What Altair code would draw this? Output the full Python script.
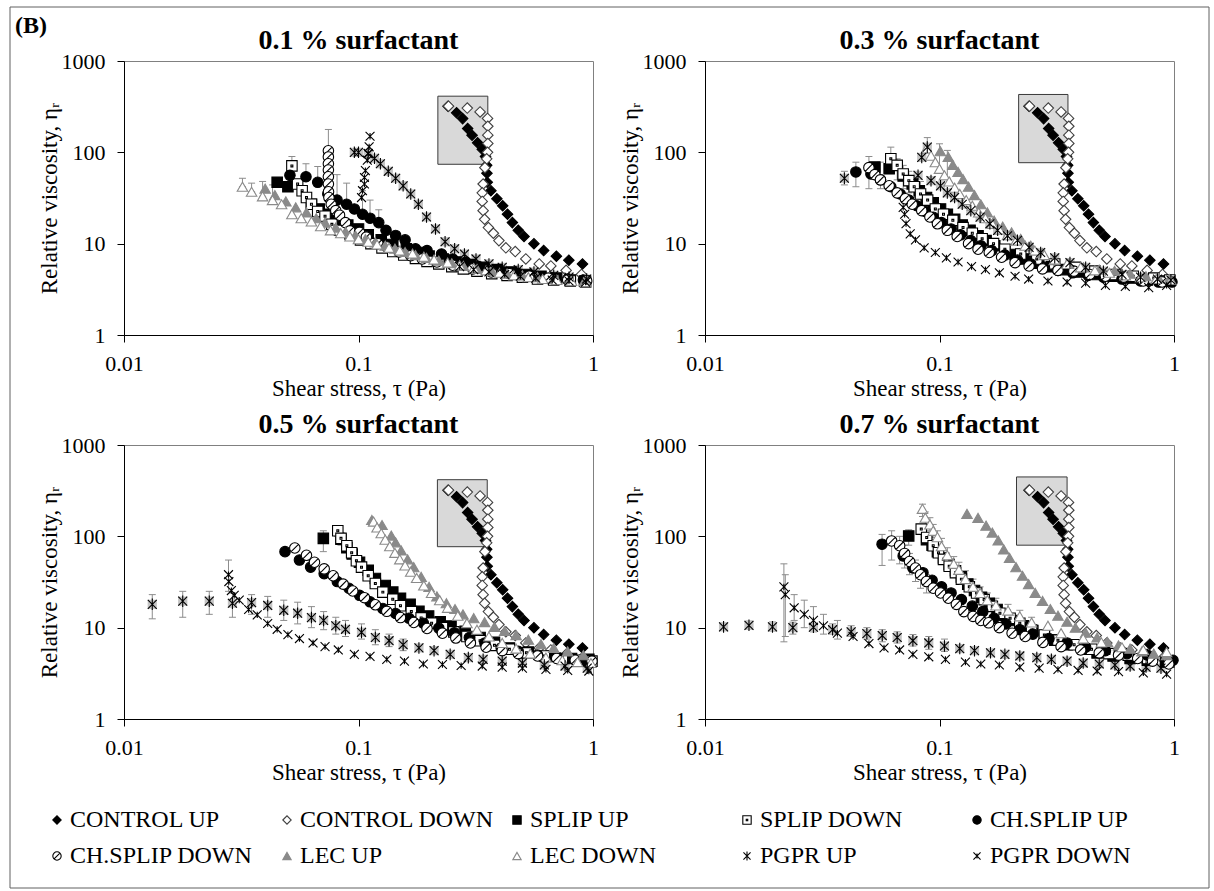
import altair as alt
import pandas as pd

# ---------------- legend / series definitions ----------------
SERIES = ["CONTROL UP", "CONTROL DOWN", "SPLIP UP", "SPLIP DOWN", "CH.SPLIP UP",
          "CH.SPLIP DOWN", "LEC UP", "LEC DOWN", "PGPR UP", "PGPR DOWN"]
SHAPES = ["diamond", "diamond", "square",
          "M-1,-1H1V1H-1Z M-0.18,-0.18H0.18V0.18H-0.18Z",
          "circle",
          "M1,0A1,1,0,1,1,-1,0A1,1,0,1,1,1,0Z M-0.7,0.7L0.7,-0.7",
          "triangle-up", "triangle-up",
          "M-0.85,-0.85L0.85,0.85M-0.85,0.85L0.85,-0.85M0,-1.1L0,1.1",
          "M-0.85,-0.85L0.85,0.85M-0.85,0.85L0.85,-0.85M0,-0.6L0,0.6"]
FILLS = ["black", "white", "black", "white", "black", "white",
         "#8a8a8a", "white", "transparent", "transparent"]
STROKES = ["black", "#404040", "black", "black", "black", "black",
           "#8a8a8a", "#8a8a8a", "black", "black"]

PANEL_TITLES = ["0.1 % surfactant", "0.3 % surfactant", "0.5 % surfactant", "0.7 % surfactant"]
X_TITLE = "Shear stress, τ (Pa)"
Y_TITLE = "Relative viscosity, ηᵣ"
X_TICKS = [0.01, 0.1, 1]
Y_TICKS = [1, 10, 100, 1000]

# grey inset box per panel (x1, x2, y1, y2)
INSET_X1 = [0.218, 0.2175, 0.217, 0.213]
INSET_X2 = [0.356, 0.353, 0.354, 0.350]
INSET_Y1 = [74, 77, 77, 80]
INSET_Y2 = [412, 430, 417, 447]

# ---------------- control (same in every panel) ----------------
CONTROL_UP_X = [0.241, 0.262, 0.278, 0.292, 0.305, 0.322, 0.337, 0.348, 0.352, 0.353, 0.354, 0.367,
                0.389, 0.412, 0.432, 0.453, 0.480, 0.508, 0.560, 0.616, 0.698, 0.789, 0.902]
CONTROL_UP_Y = [320, 271, 234, 182, 154, 127, 108, 90, 72, 59, 47, 38,
                31, 26, 21, 17, 14, 12, 10, 8.4, 7.3, 6.6, 6.0]
CONTROL_DOWN_X = [0.242, 0.291, 0.330, 0.355, 0.356, 0.356, 0.356, 0.355, 0.352, 0.346, 0.340, 0.337,
                  0.337, 0.340, 0.345, 0.358, 0.376, 0.397, 0.425, 0.466, 0.517, 0.590, 0.661, 0.768, 0.893]
CONTROL_DOWN_Y = [320, 305, 277, 235, 193, 154, 125, 100, 85, 68, 45, 36,
                  29, 23, 18.5, 15, 13, 10.8, 9.0, 8.2, 6.8, 6.0, 5.7, 5.1, 4.6]

# ---------------- 0.1 % ----------------
P1_SPLIP_UP_X = [0.045, 0.050, 0.063, 0.068, 0.075, 0.082, 0.090, 0.10, 0.11, 0.125, 0.14, 0.16, 0.18,
                 0.20, 0.23, 0.26, 0.30, 0.34, 0.39, 0.45, 0.52, 0.60, 0.70, 0.80, 0.92]
P1_SPLIP_UP_Y = [47, 42, 27, 24, 21, 18, 16, 14.5, 12.5, 11, 9.8, 8.8, 8.0,
                 7.3, 6.8, 6.3, 5.9, 5.5, 5.2, 4.9, 4.6, 4.4, 4.2, 4.0, 3.9]
P1_SPLIP_DOWN_X = [0.052, 0.055, 0.0575, 0.060, 0.063, 0.067, 0.072, 0.077, 0.083, 0.092, 0.102, 0.113,
                   0.126, 0.14, 0.156, 0.175, 0.196, 0.22, 0.25, 0.28, 0.32, 0.37, 0.43, 0.50, 0.58,
                   0.68, 0.80, 0.93]
P1_SPLIP_DOWN_Y = [71, 45, 38, 32, 27, 22.5, 20, 16.3, 14, 12.8, 11, 10,
                   9.0, 8.2, 7.5, 6.9, 6.4, 6.0, 5.6, 5.3, 5.0, 4.7, 4.5, 4.3, 4.1,
                   4.0, 3.9, 3.8]
P1_CHSPLIP_UP_X = [0.051, 0.0597, 0.067, 0.074, 0.081, 0.089, 0.096, 0.104, 0.112, 0.122, 0.131, 0.144,
                   0.158, 0.175, 0.196, 0.226, 0.252, 0.287, 0.325, 0.368, 0.42, 0.48, 0.535, 0.60,
                   0.67, 0.78, 0.91]
P1_CHSPLIP_UP_Y = [56, 54, 47, 35, 30, 27, 24, 21, 19, 17, 14, 12.3,
                   11, 8.8, 8.4, 7.7, 6.8, 6.3, 5.6, 5.0, 4.9, 4.7, 4.5, 4.3,
                   4.2, 4.1, 4.0]
P1_CHSPLIP_DOWN_X = [0.0744, 0.0744, 0.0744, 0.0744, 0.0744, 0.0744, 0.0745, 0.0748, 0.0765, 0.080,
                     0.083, 0.088, 0.092, 0.101, 0.108, 0.121, 0.132, 0.149, 0.167, 0.187, 0.216,
                     0.252, 0.307, 0.368, 0.44, 0.535, 0.645, 0.78, 0.94]
P1_CHSPLIP_DOWN_Y = [104, 89, 75, 64, 54, 45, 37, 32, 27, 23,
                     20.5, 17, 13.8, 13.3, 11.8, 10, 9.2, 8.1, 7.4, 6.8, 6.3,
                     5.8, 5.3, 4.9, 4.7, 4.4, 4.2, 4.0, 3.9]
P1_LEC_UP_X = [0.040, 0.044, 0.049, 0.054, 0.060, 0.066, 0.072, 0.080, 0.088, 0.097, 0.107, 0.118,
               0.130, 0.143, 0.158, 0.175, 0.195, 0.22, 0.25, 0.28, 0.32, 0.37, 0.43, 0.50, 0.58,
               0.68, 0.80, 0.92]
P1_LEC_UP_Y = [40, 34, 29, 25, 22, 19, 17, 15, 13.5, 12.3, 11.2, 10.3,
               9.5, 8.8, 8.1, 7.5, 7.0, 6.5, 6.1, 5.7, 5.3, 5.0, 4.7, 4.5, 4.3,
               4.1, 4.0, 3.9]
P1_LEC_DOWN_X = [0.032, 0.035, 0.039, 0.043, 0.047, 0.052, 0.057, 0.063, 0.069, 0.076, 0.084, 0.092,
                 0.10, 0.11, 0.12, 0.135, 0.15, 0.17, 0.19, 0.21, 0.24, 0.27, 0.31, 0.35, 0.40,
                 0.46, 0.53, 0.61, 0.70, 0.81, 0.93]
P1_LEC_DOWN_Y = [42, 37, 33, 30, 27, 21, 19, 17.5, 15.5, 14, 13, 12,
                 11.2, 10.5, 9.8, 9.0, 8.4, 7.8, 7.2, 6.7, 6.2, 5.8, 5.4, 5.1, 4.8,
                 4.5, 4.3, 4.1, 4.0, 3.9, 3.8]
P1_PGPR_UP_X = [0.096, 0.100, 0.110, 0.117, 0.124, 0.134, 0.144, 0.155, 0.167, 0.180, 0.195, 0.213,
                0.234, 0.257, 0.283, 0.317, 0.36, 0.41, 0.48, 0.56, 0.68, 0.79, 0.94]
P1_PGPR_UP_Y = [100, 100, 97, 86, 75, 62, 52, 43, 35, 27, 19.6, 14.5,
                10.5, 8.8, 7.7, 6.8, 6.0, 5.5, 5.2, 4.9, 4.5, 4.3, 4.1]
P1_PGPR_DOWN_X = [0.103, 0.104, 0.106, 0.106, 0.107, 0.109, 0.110, 0.111, 0.112,
                  0.27, 0.31, 0.36, 0.42, 0.49, 0.57, 0.67, 0.79, 0.93]
P1_PGPR_DOWN_Y = [32, 38, 45, 53, 63, 82, 97, 115, 150,
                  5.6, 5.2, 4.9, 4.6, 4.4, 4.2, 4.0, 3.9, 3.8]
P1_EB_X = [0.032, 0.035, 0.039, 0.043, 0.052, 0.0597, 0.067, 0.0744, 0.081, 0.089, 0.104, 0.112, 0.122]
P1_EB_LO = [42, 37, 33, 30, 71, 54, 47, 104, 30, 27, 21, 19, 17]
P1_EB_HI = [52, 46, 48, 44, 90, 75, 70, 178, 57, 46, 38, 30, 23.5]

# ---------------- 0.3 % ----------------
P2_SPLIP_UP_X = [0.053, 0.061, 0.070, 0.0765, 0.082, 0.088, 0.094, 0.101, 0.108, 0.116, 0.125, 0.135,
                 0.146, 0.158, 0.172, 0.19, 0.21, 0.235, 0.265, 0.30, 0.345, 0.40, 0.47, 0.55,
                 0.65, 0.77, 0.90]
P2_SPLIP_UP_Y = [69, 66, 55, 45, 38, 32, 28, 24, 21, 18.5, 16, 14,
                 12.2, 10.8, 9.5, 8.5, 7.6, 6.8, 6.1, 5.6, 5.2, 4.9, 4.6, 4.4,
                 4.2, 4.0, 3.9]
P2_SPLIP_DOWN_X = [0.062, 0.066, 0.070, 0.074, 0.078, 0.083, 0.089, 0.096, 0.104, 0.114, 0.126, 0.138,
                   0.152, 0.170, 0.19, 0.222, 0.26, 0.31, 0.38, 0.46, 0.56, 0.67, 0.82, 0.96]
P2_SPLIP_DOWN_Y = [85, 72, 58, 49, 42, 35, 30, 24, 21, 18, 15, 13,
                   11.3, 10, 8.7, 7.7, 6.8, 6.0, 5.5, 5.0, 4.6, 4.4, 4.2, 4.0]
P2_CHSPLIP_UP_X = [0.044, 0.051, 0.056, 0.062, 0.068, 0.074, 0.080, 0.087, 0.094, 0.102, 0.112, 0.123,
                   0.136, 0.15, 0.167, 0.19, 0.215, 0.245, 0.28, 0.32, 0.37, 0.43, 0.50, 0.60,
                   0.72, 0.86, 0.98]
P2_CHSPLIP_UP_Y = [61, 58, 50, 42, 35, 30, 26, 22.5, 19.5, 17, 14.5, 12.5,
                   10.8, 9.5, 8.4, 7.5, 6.6, 6.0, 5.5, 5.1, 4.8, 4.5, 4.3, 4.1,
                   3.9, 3.8, 3.8]
P2_CHSPLIP_DOWN_X = [0.050, 0.053, 0.056, 0.061, 0.066, 0.0715, 0.0765, 0.084, 0.091, 0.098, 0.108,
                     0.119, 0.133, 0.146, 0.163, 0.184, 0.21, 0.241, 0.275, 0.32, 0.374, 0.437,
                     0.51, 0.61, 0.74, 0.89]
P2_CHSPLIP_DOWN_Y = [68, 57, 50, 43, 36, 31, 27, 23, 19.6, 16.5, 14,
                     12, 10, 8.7, 8.0, 7.1, 6.2, 5.7, 5.3, 5.1, 5.0, 4.6,
                     4.4, 4.3, 3.9, 3.8]
P2_LEC_UP_X = [0.1008, 0.109, 0.114, 0.120, 0.126, 0.133, 0.141, 0.150, 0.160, 0.171, 0.186, 0.203,
               0.222, 0.245, 0.275, 0.309, 0.355, 0.411, 0.48, 0.558, 0.65, 0.759, 0.86, 0.955]
P2_LEC_UP_Y = [103, 89, 73, 61, 51, 42, 34, 27, 22, 17.9, 15.4, 13.3,
               11.3, 9.5, 7.9, 6.6, 6.0, 5.5, 5.2, 5.05, 4.7, 4.4, 4.2, 4.1]
P2_LEC_DOWN_X = [0.088, 0.092, 0.096, 0.1, 0.105, 0.11, 0.116, 0.122, 0.13, 0.138, 0.147, 0.157,
                 0.168, 0.18, 0.195, 0.212, 0.232, 0.255, 0.28, 0.31, 0.35, 0.40, 0.46, 0.53,
                 0.62, 0.72, 0.84, 0.97]
P2_LEC_DOWN_Y = [110, 92, 78, 66, 56, 48, 41, 35, 30, 26, 22, 19,
                 16.5, 14.3, 12.4, 10.8, 9.5, 8.4, 7.5, 6.7, 6.0, 5.5, 5.1, 4.8,
                 4.5, 4.3, 4.1, 4.0]
P2_PGPR_UP_X = [0.0393, 0.081, 0.084, 0.0887, 0.092, 0.101, 0.108, 0.116, 0.125, 0.136, 0.149, 0.164,
                0.177, 0.195, 0.215, 0.241, 0.27, 0.31, 0.36, 0.42, 0.50, 0.60, 0.72, 0.85, 0.97]
P2_PGPR_UP_Y = [52, 56, 88, 114, 49, 43, 36, 32, 27, 23, 19.5, 16.5,
                14, 12.2, 10.9, 9.1, 8.0, 7.0, 6.2, 5.5, 5.0, 4.6, 4.3, 4.1, 4.0]
P2_PGPR_DOWN_X = [0.070, 0.071, 0.072, 0.075, 0.079, 0.086, 0.096, 0.107, 0.120, 0.137, 0.157, 0.18,
                  0.21, 0.24, 0.29, 0.35, 0.42, 0.51, 0.62, 0.78, 0.93]
P2_PGPR_DOWN_Y = [25, 21, 16.6, 12.8, 11, 9.0, 8.0, 7.0, 6.3, 5.6, 5.2, 4.8,
                  4.4, 4.1, 3.9, 3.8, 3.7, 3.5, 3.4, 3.3, 3.5]
P2_EB_X = [0.0393, 0.044, 0.050, 0.056, 0.062, 0.066, 0.070, 0.074, 0.078, 0.083, 0.0887, 0.1, 0.108]
P2_EB_LO = [44, 42, 40, 40, 60, 50, 40, 36, 32, 28, 100, 60, 52]
P2_EB_HI = [62, 78, 90, 78, 114, 85, 72, 62, 55, 48, 145, 124, 105]

# ---------------- 0.5 % ----------------
P3_SPLIP_UP_X = [0.0708, 0.0842, 0.0892, 0.094, 0.101, 0.110, 0.118, 0.130, 0.140, 0.151, 0.166, 0.181,
                 0.199, 0.223, 0.248, 0.285, 0.33, 0.38, 0.44, 0.53, 0.67, 0.81, 0.96]
P3_SPLIP_UP_Y = [95, 93, 75, 64, 52, 42.5, 34.5, 29, 24.5, 21, 18, 15.1,
                 13.4, 11.6, 10.4, 9.1, 7.8, 6.9, 6.0, 5.4, 4.9, 4.6, 4.5]
P3_SPLIP_DOWN_X = [0.0816, 0.0842, 0.0892, 0.0935, 0.098, 0.103, 0.110, 0.118, 0.127, 0.140, 0.151,
                   0.168, 0.185, 0.205, 0.228, 0.255, 0.29, 0.33, 0.38, 0.44, 0.52, 0.62, 0.74,
                   0.88, 0.99]
P3_SPLIP_DOWN_Y = [115, 95, 79, 66, 54, 46, 37, 30.5, 24.5, 20.5, 17.4,
                   15, 12.8, 11.2, 10, 9.0, 8.0, 7.2, 6.4, 5.8, 5.3, 4.9, 4.6,
                   4.4, 4.3]
P3_CHSPLIP_UP_X = [0.0486, 0.056, 0.0625, 0.0714, 0.0812, 0.091, 0.101, 0.112, 0.127, 0.144, 0.164,
                   0.189, 0.22, 0.256, 0.297, 0.346, 0.406, 0.48, 0.58, 0.71, 0.91]
P3_CHSPLIP_UP_Y = [68, 55, 46, 39, 32, 27, 22.6, 19.2, 16.2, 14.3, 12.7,
                   11.2, 9.9, 8.8, 7.8, 6.8, 6.0, 5.5, 5.0, 4.7, 4.3]
P3_CHSPLIP_DOWN_X = [0.0535, 0.060, 0.0649, 0.0714, 0.078, 0.086, 0.0945, 0.106, 0.118, 0.132, 0.151,
                     0.172, 0.196, 0.228, 0.26, 0.30, 0.35, 0.41, 0.48, 0.58, 0.70, 0.84, 0.99]
P3_CHSPLIP_DOWN_Y = [74.5, 62, 52, 44, 37, 30, 25.2, 21.3, 17.8, 15.1, 12.9,
                     11.4, 9.8, 8.7, 7.7, 6.8, 6.1, 5.6, 5.2, 4.9, 4.6, 4.4, 4.3]
P3_LEC_UP_X = [0.114, 0.126, 0.138, 0.144, 0.152, 0.162, 0.172, 0.185, 0.20, 0.216, 0.237, 0.258,
               0.279, 0.31, 0.345, 0.38, 0.42, 0.47, 0.53, 0.60, 0.68, 0.78, 0.91]
P3_LEC_UP_Y = [151, 133, 102, 86, 70, 56, 46, 36, 28, 22, 18.5, 16,
               14, 12.7, 11.5, 10.2, 9.2, 8.3, 7.4, 6.6, 6.0, 5.5, 5.0]
P3_LEC_DOWN_X = [0.116, 0.12, 0.125, 0.13, 0.136, 0.143, 0.15, 0.158, 0.167, 0.177, 0.19, 0.205,
                 0.222, 0.24, 0.265, 0.29, 0.32, 0.36, 0.41, 0.47, 0.54, 0.63, 0.74, 0.86, 0.98]
P3_LEC_DOWN_Y = [145, 125, 108, 92, 78, 66, 56, 48, 41, 35, 29, 24,
                 20, 16.5, 13.5, 11.2, 9.5, 8, 6.8, 5.9, 5.2, 4.7, 4.4, 4.2, 4.1]
P3_PGPR_UP_X = [0.0132, 0.0178, 0.0231, 0.029, 0.035, 0.041, 0.048, 0.055, 0.063, 0.071, 0.080, 0.088,
                0.103, 0.118, 0.135, 0.155, 0.181, 0.21, 0.246, 0.294, 0.34, 0.41, 0.50, 0.62,
                0.76, 0.945]
P3_PGPR_UP_Y = [18, 19.5, 19.5, 18.5, 18.8, 17.5, 15.5, 14.4, 12.9, 12.0, 10.5, 9.6,
                8.9, 7.8, 7.2, 6.5, 6.0, 5.6, 5.1, 4.7, 4.5, 4.3, 4.1, 3.9,
                3.8, 3.6]
P3_PGPR_DOWN_X = [0.0279, 0.028, 0.0287, 0.0295, 0.031, 0.034, 0.037, 0.041, 0.045, 0.050, 0.056,
                  0.064, 0.072, 0.082, 0.096, 0.112, 0.132, 0.157, 0.189, 0.228, 0.274, 0.337,
                  0.41, 0.50, 0.63, 0.78, 0.96]
P3_PGPR_DOWN_Y = [38, 32, 25.5, 22.6, 20, 15.8, 13.8, 11.1, 9.6, 8.4, 7.6,
                  6.8, 6.2, 5.7, 5.1, 4.85, 4.5, 4.3, 4.0, 3.95, 3.85, 3.8,
                  3.7, 3.6, 3.5, 3.4, 3.35]
P3_EB_X = [0.0132, 0.0178, 0.0231, 0.029, 0.0279, 0.035, 0.041, 0.048, 0.055, 0.063, 0.071, 0.080,
           0.088, 0.103, 0.118, 0.135, 0.155, 0.0708, 0.0816, 0.0842]
P3_EB_LO = [12.5, 13, 14, 13, 25, 14, 13, 12, 11, 10, 9.5, 8.5,
            8, 7.5, 6.5, 6.2, 5.6, 68, 100, 80]
P3_EB_HI = [23, 25, 25, 24, 55, 23, 22, 20, 19, 17, 15, 13,
            12, 11, 9.5, 8.5, 7.5, 115, 130, 110]

# ---------------- 0.7 % ----------------
P4_SPLIP_UP_X = [0.0739, 0.088, 0.093, 0.098, 0.104, 0.110, 0.117, 0.124, 0.132, 0.141, 0.151, 0.163,
                 0.176, 0.19, 0.207, 0.228, 0.25, 0.28, 0.31, 0.35, 0.41, 0.47, 0.55, 0.65,
                 0.77, 0.92]
P4_SPLIP_UP_Y = [101, 92, 80, 68, 58, 49, 42, 36, 30, 25.5, 21.5, 18.5,
                 15.8, 13.7, 12, 10.5, 9.3, 8.2, 7.3, 6.5, 5.8, 5.3, 4.9, 4.6,
                 4.4, 4.2]
P4_SPLIP_DOWN_X = [0.0836, 0.0882, 0.094, 0.099, 0.104, 0.110, 0.117, 0.124, 0.134, 0.144, 0.155,
                   0.168, 0.181, 0.2, 0.22, 0.247, 0.28, 0.32, 0.375, 0.445, 0.528, 0.638,
                   0.773, 0.95]
P4_SPLIP_DOWN_Y = [120, 97, 79, 66, 56, 47, 40, 34, 28, 24, 20.3,
                   17.1, 14.4, 12.7, 11.2, 9.4, 8.3, 7.3, 6.5, 5.8, 5.2, 5.0,
                   4.6, 4.2]
P4_CHSPLIP_UP_X = [0.0569, 0.070, 0.077, 0.085, 0.093, 0.102, 0.112, 0.124, 0.138, 0.153, 0.171,
                   0.192, 0.22, 0.25, 0.293, 0.35, 0.42, 0.51, 0.63, 0.77, 0.99]
P4_CHSPLIP_UP_Y = [82, 61, 45, 40, 33, 28, 24, 20.3, 17.2, 15, 12.7,
                   11, 9.5, 8.5, 7.6, 6.8, 6.1, 5.6, 5.2, 5.0, 4.4]
P4_CHSPLIP_DOWN_X = [0.0625, 0.0676, 0.071, 0.0745, 0.079, 0.083, 0.088, 0.094, 0.101, 0.109, 0.118,
                     0.127, 0.139, 0.15, 0.162, 0.18, 0.204, 0.232, 0.276, 0.33, 0.40, 0.48,
                     0.58, 0.70, 0.81, 0.95]
P4_CHSPLIP_DOWN_Y = [89, 79, 65, 53, 45, 38, 32, 27, 24, 21, 18,
                     15, 13.3, 12, 11.3, 10, 8.7, 8.0, 6.9, 6.2, 5.7, 5.3,
                     5.0, 4.6, 4.3, 4.0]
P4_LEC_UP_X = [0.131, 0.146, 0.158, 0.168, 0.178, 0.188, 0.199, 0.212, 0.226, 0.24, 0.256, 0.275,
               0.297, 0.32, 0.35, 0.38, 0.42, 0.47, 0.52, 0.58, 0.65, 0.73, 0.82, 0.93]
P4_LEC_UP_Y = [176, 159, 131, 110, 90, 72, 58, 46, 37, 30, 24, 19.6,
               16, 13.5, 11.6, 10, 8.8, 7.8, 7.0, 6.4, 5.9, 5.5, 5.2, 5.0]
P4_LEC_DOWN_X = [0.0846, 0.087, 0.091, 0.094, 0.098, 0.102, 0.108, 0.115, 0.121, 0.129, 0.139, 0.149,
                 0.16, 0.174, 0.196, 0.22, 0.247, 0.29, 0.33, 0.41, 0.49, 0.60, 0.74, 0.93]
P4_LEC_DOWN_Y = [200, 160, 135, 115, 98, 78, 62, 50, 43, 34, 28, 24,
                 20, 17.5, 15.4, 13.3, 11.4, 10.5, 8.7, 7.6, 6.9, 6.1, 5.7, 5.4]
P4_PGPR_UP_X = [0.012, 0.0154, 0.0194, 0.0237, 0.029, 0.035, 0.042, 0.049, 0.057, 0.066, 0.077, 0.090,
                0.105, 0.122, 0.141, 0.165, 0.19, 0.22, 0.26, 0.30, 0.35, 0.41, 0.48, 0.56,
                0.65, 0.76, 0.88]
P4_PGPR_UP_Y = [10.2, 10.6, 10.2, 10.0, 10.1, 9.5, 9.0, 8.6, 8.2, 7.8, 7.2, 6.8,
                6.3, 5.9, 5.6, 5.3, 5.1, 4.9, 4.7, 4.5, 4.3, 4.1, 4.0, 3.9,
                3.8, 3.7, 3.6]
P4_PGPR_DOWN_X = [0.0217, 0.022, 0.024, 0.0265, 0.029, 0.032, 0.0367, 0.0428, 0.050, 0.058, 0.0676,
                  0.077, 0.090, 0.106, 0.129, 0.150, 0.18, 0.22, 0.266, 0.32, 0.39, 0.47,
                  0.58, 0.74, 0.93]
P4_PGPR_DOWN_Y = [28, 23, 16.5, 14, 12, 10.5, 8.7, 8.0, 6.7, 6.0, 5.7,
                  5.1, 4.8, 4.5, 4.2, 4.0, 3.9, 3.7, 3.6, 3.5, 3.4, 3.35,
                  3.3, 3.2, 3.1]
P4_EB_X = [0.012, 0.0154, 0.0194, 0.0237, 0.035, 0.042, 0.049, 0.057, 0.066, 0.077, 0.090, 0.105,
           0.0217, 0.022, 0.024, 0.0265, 0.029, 0.032, 0.0367,
           0.0569, 0.0625, 0.0676, 0.071, 0.0745, 0.079, 0.083, 0.088, 0.0739,
           0.0846, 0.087, 0.091, 0.094, 0.098, 0.102, 0.108, 0.115, 0.121, 0.129, 0.139, 0.149,
           0.16, 0.174, 0.196, 0.22, 0.247]
P4_EB_LO = [9.3, 9.6, 9.2, 8.5, 8.5, 8, 7.5, 7, 6.8, 6.3, 5.8, 5.5,
            7, 8, 12, 10, 9, 8.5, 7.5,
            48, 55, 50, 45, 38, 32, 27, 24, 80,
            165, 135, 115, 97, 82, 65, 52, 42, 36, 29, 24, 20,
            17, 15, 13, 11.5, 10]
P4_EB_HI = [11.2, 11.8, 11.5, 11.5, 11, 10.5, 10, 9.5, 9, 8.4, 8, 7.5,
            50, 38, 23, 20, 17, 14, 12,
            105, 115, 100, 80, 65, 55, 45, 38, 118,
            225, 185, 160, 135, 115, 95, 75, 60, 52, 42, 34, 28,
            24, 21, 18, 15.5, 13]

# ---------------- assemble tables ----------------
PANELS = {
    1: [(CONTROL_UP_X, CONTROL_UP_Y), (CONTROL_DOWN_X, CONTROL_DOWN_Y),
        (P1_SPLIP_UP_X, P1_SPLIP_UP_Y), (P1_SPLIP_DOWN_X, P1_SPLIP_DOWN_Y),
        (P1_CHSPLIP_UP_X, P1_CHSPLIP_UP_Y), (P1_CHSPLIP_DOWN_X, P1_CHSPLIP_DOWN_Y),
        (P1_LEC_UP_X, P1_LEC_UP_Y), (P1_LEC_DOWN_X, P1_LEC_DOWN_Y),
        (P1_PGPR_UP_X, P1_PGPR_UP_Y), (P1_PGPR_DOWN_X, P1_PGPR_DOWN_Y)],
    2: [(CONTROL_UP_X, CONTROL_UP_Y), (CONTROL_DOWN_X, CONTROL_DOWN_Y),
        (P2_SPLIP_UP_X, P2_SPLIP_UP_Y), (P2_SPLIP_DOWN_X, P2_SPLIP_DOWN_Y),
        (P2_CHSPLIP_UP_X, P2_CHSPLIP_UP_Y), (P2_CHSPLIP_DOWN_X, P2_CHSPLIP_DOWN_Y),
        (P2_LEC_UP_X, P2_LEC_UP_Y), (P2_LEC_DOWN_X, P2_LEC_DOWN_Y),
        (P2_PGPR_UP_X, P2_PGPR_UP_Y), (P2_PGPR_DOWN_X, P2_PGPR_DOWN_Y)],
    3: [(CONTROL_UP_X, CONTROL_UP_Y), (CONTROL_DOWN_X, CONTROL_DOWN_Y),
        (P3_SPLIP_UP_X, P3_SPLIP_UP_Y), (P3_SPLIP_DOWN_X, P3_SPLIP_DOWN_Y),
        (P3_CHSPLIP_UP_X, P3_CHSPLIP_UP_Y), (P3_CHSPLIP_DOWN_X, P3_CHSPLIP_DOWN_Y),
        (P3_LEC_UP_X, P3_LEC_UP_Y), (P3_LEC_DOWN_X, P3_LEC_DOWN_Y),
        (P3_PGPR_UP_X, P3_PGPR_UP_Y), (P3_PGPR_DOWN_X, P3_PGPR_DOWN_Y)],
    4: [(CONTROL_UP_X, CONTROL_UP_Y), (CONTROL_DOWN_X, CONTROL_DOWN_Y),
        (P4_SPLIP_UP_X, P4_SPLIP_UP_Y), (P4_SPLIP_DOWN_X, P4_SPLIP_DOWN_Y),
        (P4_CHSPLIP_UP_X, P4_CHSPLIP_UP_Y), (P4_CHSPLIP_DOWN_X, P4_CHSPLIP_DOWN_Y),
        (P4_LEC_UP_X, P4_LEC_UP_Y), (P4_LEC_DOWN_X, P4_LEC_DOWN_Y),
        (P4_PGPR_UP_X, P4_PGPR_UP_Y), (P4_PGPR_DOWN_X, P4_PGPR_DOWN_Y)],
}
ERRBARS = {1: (P1_EB_X, P1_EB_LO, P1_EB_HI), 2: (P2_EB_X, P2_EB_LO, P2_EB_HI),
           3: (P3_EB_X, P3_EB_LO, P3_EB_HI), 4: (P4_EB_X, P4_EB_LO, P4_EB_HI)}

pt_rows, eb_rows, inset_rows = [], [], []
for p, lst in PANELS.items():
    for name, (xs, ys) in zip(SERIES, lst):
        for xv, yv in zip(xs, ys):
            pt_rows.append({"panel": p, "series": name, "x": xv, "y": yv})
    ex, elo, ehi = ERRBARS[p]
    for xv, lo, hi in zip(ex, elo, ehi):
        eb_rows.append({"panel": p, "x": xv, "lo": lo, "hi": hi})
    inset_rows.append({"panel": p, "x1": INSET_X1[p - 1], "x2": INSET_X2[p - 1],
                       "y1": INSET_Y1[p - 1], "y2": INSET_Y2[p - 1]})
points = pd.DataFrame(pt_rows)
ebars = pd.DataFrame(eb_rows)
insets = pd.DataFrame(inset_rows)

# ---------------- chart ----------------
FONT = "Liberation Serif"
W, H = 469, 274
XS = alt.Scale(type="log", domain=[0.01, 1], nice=False)
YS = alt.Scale(type="log", domain=[1, 1000], nice=False)
XAX = alt.Axis(values=X_TICKS, format="~g", title=X_TITLE, labelPadding=11, titlePadding=3,
               labelFlush=False, labelOverlap=False)
YAX = alt.Axis(values=Y_TICKS, format="~g", title=Y_TITLE, labelPadding=12, titlePadding=0,
               labelFlush=False, labelOverlap=False)

LEG = alt.Legend(title=None, orient="none", legendX=-79, legendY=747, columns=5, gridAlign="all",
                 direction="horizontal", columnPadding=11, rowPadding=12, labelFont=FONT,
                 labelFontSize=24, labelColor="black", labelLimit=400, symbolSize=70,
                 symbolStrokeWidth=1.1, labelOffset=1, padding=0)


def xq(f):
    return alt.X(f, type="quantitative", scale=XS, axis=XAX)


def yq(f):
    return alt.Y(f, type="quantitative", scale=YS, axis=YAX)


def make_panel(p):
    pts = points[points.panel == p]
    ebd = ebars[ebars.panel == p]
    one = pd.DataFrame({"k": [0]})
    inset = alt.Chart(insets[insets.panel == p]).mark_rect(
        fill="#d9d9d9", stroke="#3a3a3a", strokeWidth=1).encode(
        x=xq("x1"), x2="x2:Q", y=yq("y1"), y2="y2:Q")
    rule = alt.Chart(ebd).mark_rule(color="#8c8c8c", strokeWidth=1).encode(
        x=xq("x"), y=yq("lo"), y2="hi:Q")
    cap_hi = alt.Chart(ebd).mark_tick(orient="horizontal", size=7, thickness=1,
                                      color="#8c8c8c", opacity=1).encode(x=xq("x"), y=yq("hi"))
    cap_lo = alt.Chart(ebd).mark_tick(orient="horizontal", size=7, thickness=1,
                                      color="#8c8c8c", opacity=1).encode(x=xq("x"), y=yq("lo"))
    bg = alt.Chart(pts[pts.series == "PGPR UP"]).mark_square(
        size=85, color="#c4c4c4", opacity=1).encode(x=xq("x"), y=yq("y"))
    mk = alt.Chart(pts).mark_point(opacity=1, size=110, strokeWidth=1.1).encode(
        x=xq("x"), y=yq("y"),
        shape=alt.Shape("series:N", scale=alt.Scale(domain=SERIES, range=SHAPES), legend=LEG),
        fill=alt.Fill("series:N", scale=alt.Scale(domain=SERIES, range=FILLS), legend=LEG),
        stroke=alt.Stroke("series:N", scale=alt.Scale(domain=SERIES, range=STROKES), legend=LEG),
    )
    title = alt.Chart(one).mark_text(text=PANEL_TITLES[p - 1], font=FONT, fontSize=28,
                                     fontWeight="bold", align="center", baseline="alphabetic",
                                     color="black").encode(x=alt.value(W / 2), y=alt.value(-12))
    layers = [inset, rule, cap_hi, cap_lo, bg, mk, title]
    if p == 1:
        frame = alt.Chart(one).mark_rect(fillOpacity=0, stroke="#606060", strokeWidth=1).encode(
            x=alt.value(-114), x2=alt.value(1085), y=alt.value(-54), y2=alt.value(827))
        label = alt.Chart(one).mark_text(text="(B)", font=FONT, fontSize=24, fontWeight="bold",
                                         align="left", baseline="alphabetic", color="black").encode(
            x=alt.value(-109), y=alt.value(-28))
        layers += [frame, label]
    return alt.layer(*layers).properties(width=W, height=H)


chart = alt.concat(make_panel(1), make_panel(2), make_panel(3), make_panel(4),
                   columns=2, spacing={"row": 110, "column": 112}, bounds="flush").properties(
    padding={"left": 9, "top": 6, "right": 3, "bottom": 1}, background="white"
).configure_view(stroke="#808080", strokeWidth=1).configure_axis(
    domainColor="black", domainWidth=1, tickColor="black", tickSize=7, grid=False,
    labelFont=FONT, labelFontSize=22, labelColor="black",
    titleFont=FONT, titleFontSize=23, titleFontWeight="normal", titleColor="black"
).configure_legend(labelFont=FONT, labelFontSize=24, labelColor="black")

chart.save("out.html", embed_options={"renderer": "svg", "actions": False})
